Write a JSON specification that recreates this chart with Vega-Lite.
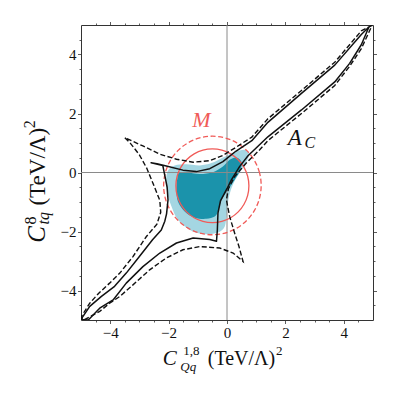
{
"$schema": "https://vega.github.io/schema/vega-lite/v6.json",
"width": 292,
"height": 295,
"autosize": {"type": "none"},
"padding": {"left": 81, "top": 25, "right": 26, "bottom": 79},
"background": "white",
"config": {
  "view": {"stroke": null},
  "font": "Liberation Serif",
  "style": {"guide-label": {"font": "Liberation Serif", "fontSize": 15}},
  "axis": {"grid": false, "title": null, "domainColor": "#333", "domainWidth": 1, "tickColor": "#333", "tickWidth": 0.8, "labelFont": "Liberation Serif", "labelFontSize": 15, "labelColor": "#111", "labelOverlap": false, "labelFlush": false, "format": "d"}
},
"datasets": {
  "light": [
    {"i":0,"x":-2.08,"y":-0.18},{"i":1,"x":-2.0,"y":0.09},{"i":2,"x":-1.79,"y":0.24},{"i":3,"x":-1.39,"y":0.28},{"i":4,"x":-0.93,"y":0.24},{"i":5,"x":-0.53,"y":0.32},{"i":6,"x":-0.14,"y":0.51},{"i":7,"x":0.26,"y":0.69},{"i":8,"x":0.61,"y":0.77},{"i":9,"x":0.75,"y":0.62},{"i":10,"x":0.66,"y":0.36},{"i":11,"x":0.45,"y":0.02},{"i":12,"x":0.23,"y":-0.35},{"i":13,"x":0.08,"y":-0.76},{"i":14,"x":0.01,"y":-1.2},{"i":15,"x":-0.03,"y":-1.6},{"i":16,"x":-0.11,"y":-1.89},{"i":17,"x":-0.36,"y":-2.05},{"i":18,"x":-0.82,"y":-2.09},{"i":19,"x":-1.28,"y":-1.94},{"i":20,"x":-1.68,"y":-1.6},{"i":21,"x":-1.9,"y":-1.15},{"i":22,"x":-2.05,"y":-0.65}
  ],
  "dark": [
    {"i":0,"x":-1.7,"y":-0.19},{"i":1,"x":-1.64,"y":-0.02},{"i":2,"x":-1.39,"y":0.01},{"i":3,"x":-0.93,"y":-0.05},{"i":4,"x":-0.48,"y":0.01},{"i":5,"x":-0.14,"y":0.2},{"i":6,"x":0.09,"y":0.43},{"i":7,"x":0.32,"y":0.51},{"i":8,"x":0.49,"y":0.37},{"i":9,"x":0.46,"y":0.09},{"i":10,"x":0.26,"y":-0.25},{"i":11,"x":0.03,"y":-0.59},{"i":12,"x":-0.19,"y":-0.93},{"i":13,"x":-0.31,"y":-1.32},{"i":14,"x":-0.42,"y":-1.49},{"i":15,"x":-0.71,"y":-1.57},{"i":16,"x":-1.11,"y":-1.53},{"i":17,"x":-1.45,"y":-1.32},{"i":18,"x":-1.68,"y":-0.98},{"i":19,"x":-1.73,"y":-0.59}
  ],
  "c1": [
    {"i":0,"x":0.75,"y":-0.45},{"i":1,"x":0.708,"y":-0.126},{"i":2,"x":0.583,"y":0.175},{"i":3,"x":0.384,"y":0.434},{"i":4,"x":0.125,"y":0.633},{"i":5,"x":-0.176,"y":0.758},{"i":6,"x":-0.5,"y":0.8},{"i":7,"x":-0.824,"y":0.758},{"i":8,"x":-1.125,"y":0.633},{"i":9,"x":-1.384,"y":0.434},{"i":10,"x":-1.583,"y":0.175},{"i":11,"x":-1.708,"y":-0.126},{"i":12,"x":-1.75,"y":-0.45},{"i":13,"x":-1.708,"y":-0.774},{"i":14,"x":-1.583,"y":-1.075},{"i":15,"x":-1.384,"y":-1.334},{"i":16,"x":-1.125,"y":-1.533},{"i":17,"x":-0.824,"y":-1.658},{"i":18,"x":-0.5,"y":-1.7},{"i":19,"x":-0.176,"y":-1.658},{"i":20,"x":0.125,"y":-1.533},{"i":21,"x":0.384,"y":-1.334},{"i":22,"x":0.583,"y":-1.075},{"i":23,"x":0.708,"y":-0.774}
  ],
  "c2": [
    {"i":0,"x":1.17,"y":-0.44},{"i":1,"x":1.113,"y":-0.007},{"i":2,"x":0.946,"y":0.395},{"i":3,"x":0.681,"y":0.741},{"i":4,"x":0.335,"y":1.006},{"i":5,"x":-0.067,"y":1.173},{"i":6,"x":-0.5,"y":1.23},{"i":7,"x":-0.933,"y":1.173},{"i":8,"x":-1.335,"y":1.006},{"i":9,"x":-1.681,"y":0.741},{"i":10,"x":-1.946,"y":0.395},{"i":11,"x":-2.113,"y":-0.007},{"i":12,"x":-2.17,"y":-0.44},{"i":13,"x":-2.113,"y":-0.873},{"i":14,"x":-1.946,"y":-1.275},{"i":15,"x":-1.681,"y":-1.621},{"i":16,"x":-1.335,"y":-1.886},{"i":17,"x":-0.933,"y":-2.053},{"i":18,"x":-0.5,"y":-2.11},{"i":19,"x":-0.067,"y":-2.053},{"i":20,"x":0.335,"y":-1.886},{"i":21,"x":0.681,"y":-1.621},{"i":22,"x":0.946,"y":-1.275},{"i":23,"x":1.113,"y":-0.873}
  ],
  "solid": [
    {"i":0,"x":4.86,"y":4.93},{"i":1,"x":4.6,"y":4.68},{"i":2,"x":3.69,"y":3.64},{"i":3,"x":2.55,"y":2.68},{"i":4,"x":1.4,"y":1.7},{"i":5,"x":0.85,"y":1.08},{"i":6,"x":0.3,"y":0.72},{"i":7,"x":-0.14,"y":0.37},{"i":8,"x":-0.59,"y":0.13},{"i":9,"x":-1.05,"y":0.03},{"i":10,"x":-1.51,"y":0.08},{"i":11,"x":-2.08,"y":0.22},{"i":12,"x":-2.4,"y":0.3},{"i":13,"x":-2.6,"y":0.33},{"i":14,"x":-2.2,"y":0.24},{"i":15,"x":-2.13,"y":-0.1},{"i":16,"x":-2.05,"y":-0.5},{"i":17,"x":-2.02,"y":-0.93},{"i":18,"x":-2.07,"y":-1.4},{"i":19,"x":-2.13,"y":-1.65},{"i":20,"x":-2.25,"y":-1.95},{"i":21,"x":-2.55,"y":-2.28},{"i":22,"x":-3.0,"y":-2.85},{"i":23,"x":-3.45,"y":-3.41},{"i":24,"x":-3.85,"y":-3.86},{"i":25,"x":-4.3,"y":-4.2},{"i":26,"x":-4.7,"y":-4.54},{"i":27,"x":-5.0,"y":-4.98},{"i":28,"x":-4.75,"y":-5.0},{"i":29,"x":-4.36,"y":-4.6},{"i":30,"x":-3.9,"y":-4.32},{"i":31,"x":-3.45,"y":-3.75},{"i":32,"x":-2.88,"y":-3.19},{"i":33,"x":-2.3,"y":-2.73},{"i":34,"x":-1.73,"y":-2.39},{"i":35,"x":-1.16,"y":-2.22},{"i":36,"x":-0.59,"y":-2.27},{"i":37,"x":-0.36,"y":-2.33},{"i":38,"x":-0.33,"y":-1.94},{"i":39,"x":-0.31,"y":-1.38},{"i":40,"x":-0.22,"y":-0.95},{"i":41,"x":0.0,"y":-0.55},{"i":42,"x":0.15,"y":-0.25},{"i":43,"x":0.43,"y":0.2},{"i":44,"x":0.72,"y":0.57},{"i":45,"x":1.4,"y":1.21},{"i":46,"x":2.55,"y":2.12},{"i":47,"x":3.69,"y":3.07},{"i":48,"x":4.2,"y":3.7},{"i":49,"x":4.6,"y":4.33},{"i":50,"x":4.86,"y":4.93}
  ],
  "dashed": [
    {"i":0,"x":4.97,"y":4.99},{"i":1,"x":4.6,"y":4.8},{"i":2,"x":3.69,"y":3.74},{"i":3,"x":2.55,"y":2.78},{"i":4,"x":1.4,"y":1.82},{"i":5,"x":0.85,"y":1.2},{"i":6,"x":0.3,"y":0.85},{"i":7,"x":-0.14,"y":0.58},{"i":8,"x":-0.59,"y":0.4},{"i":9,"x":-1.16,"y":0.35},{"i":10,"x":-1.73,"y":0.45},{"i":11,"x":-2.3,"y":0.62},{"i":12,"x":-2.88,"y":0.9},{"i":13,"x":-3.5,"y":1.18},{"i":14,"x":-3.3,"y":0.98},{"i":15,"x":-3.0,"y":0.6},{"i":16,"x":-2.75,"y":0.15},{"i":17,"x":-2.5,"y":-0.45},{"i":18,"x":-2.3,"y":-0.95},{"i":19,"x":-2.27,"y":-1.35},{"i":20,"x":-2.4,"y":-1.75},{"i":21,"x":-2.76,"y":-2.17},{"i":22,"x":-3.22,"y":-2.85},{"i":23,"x":-3.67,"y":-3.41},{"i":24,"x":-4.02,"y":-3.75},{"i":25,"x":-4.4,"y":-4.1},{"i":26,"x":-4.7,"y":-4.43},{"i":27,"x":-5.0,"y":-4.9},{"i":28,"x":-4.9,"y":-5.0},{"i":29,"x":-4.36,"y":-4.71},{"i":30,"x":-4.02,"y":-4.43},{"i":31,"x":-3.67,"y":-4.2},{"i":32,"x":-3.22,"y":-3.81},{"i":33,"x":-2.65,"y":-3.3},{"i":34,"x":-2.08,"y":-2.9},{"i":35,"x":-1.51,"y":-2.62},{"i":36,"x":-0.93,"y":-2.51},{"i":37,"x":-0.25,"y":-2.56},{"i":38,"x":0.21,"y":-2.73},{"i":39,"x":0.55,"y":-3.02},{"i":40,"x":0.41,"y":-2.51},{"i":41,"x":0.26,"y":-2.05},{"i":42,"x":0.09,"y":-1.49},{"i":43,"x":-0.02,"y":-0.93},{"i":44,"x":0.05,"y":-0.55},{"i":45,"x":0.26,"y":-0.14},{"i":46,"x":0.66,"y":0.32},{"i":47,"x":1.12,"y":0.77},{"i":48,"x":1.4,"y":1.08},{"i":49,"x":2.55,"y":2.0},{"i":50,"x":3.69,"y":2.95},{"i":51,"x":4.2,"y":3.6},{"i":52,"x":4.6,"y":4.2},{"i":53,"x":4.97,"y":4.99}
  ]
},
"layer": [
  {"data": {"name": "light"},
   "mark": {"type": "line", "interpolate": "cardinal-closed", "fill": "#a4d6e2", "strokeWidth": 0, "clip": true},
   "encoding": {
     "x": {"field": "x", "type": "quantitative", "scale": {"domain": [-5, 5], "nice": false, "zero": false},
           "axis": {"orient": "bottom", "values": [-4.5,-4,-3.5,-3,-2.5,-2,-1.5,-1,-0.5,0,0.5,1,1.5,2,2.5,3,3.5,4,4.5], "labelExpr": "datum.value % 2 === 0 ? datum.label : ''", "tickSize": {"condition": {"test": "datum.value % 2 === 0", "value": 3.5}, "value": 2}, "labelPadding": 2, "labelFont": "Liberation Serif", "labelFontSize": 15}},
     "y": {"field": "y", "type": "quantitative", "scale": {"domain": [-5, 5], "nice": false, "zero": false},
           "axis": {"orient": "left", "values": [-4.5,-4,-3.5,-3,-2.5,-2,-1.5,-1,-0.5,0,0.5,1,1.5,2,2.5,3,3.5,4,4.5], "labelExpr": "datum.value % 2 === 0 ? datum.label : ''", "tickSize": {"condition": {"test": "datum.value % 2 === 0", "value": 3.5}, "value": 2}, "labelPadding": 1.5, "labelFont": "Liberation Serif", "labelFontSize": 15}},
     "order": {"field": "i", "type": "quantitative"}
   }},
  {"data": {"name": "dark"},
   "mark": {"type": "line", "interpolate": "cardinal-closed", "fill": "#1b93ab", "strokeWidth": 0, "clip": true},
   "encoding": {
     "x": {"field": "x", "type": "quantitative",
           "axis": {"orient": "top", "labels": false, "values": [-4.5,-4,-3.5,-3,-2.5,-2,-1.5,-1,-0.5,0,0.5,1,1.5,2,2.5,3,3.5,4,4.5], "tickSize": {"condition": {"test": "datum.value % 2 === 0", "value": 3.5}, "value": 2}}},
     "y": {"field": "y", "type": "quantitative",
           "axis": {"orient": "right", "labels": false, "values": [-4.5,-4,-3.5,-3,-2.5,-2,-1.5,-1,-0.5,0,0.5,1,1.5,2,2.5,3,3.5,4,4.5], "tickSize": {"condition": {"test": "datum.value % 2 === 0", "value": 3.5}, "value": 2}}},
     "order": {"field": "i", "type": "quantitative"}
   }},
  {"data": {"values": [{}]},
   "mark": {"type": "rule", "color": "#8a8a8a", "strokeWidth": 1},
   "encoding": {"x": {"datum": 0, "type": "quantitative", "axis": null}}},
  {"data": {"values": [{}]},
   "mark": {"type": "rule", "color": "#8a8a8a", "strokeWidth": 1},
   "encoding": {"y": {"datum": 0, "type": "quantitative", "axis": null}}},
  {"data": {"name": "c1"},
   "mark": {"type": "line", "interpolate": "cardinal-closed", "color": "#f05b58", "strokeWidth": 1.3, "clip": true},
   "encoding": {"x": {"field": "x", "type": "quantitative", "axis": null}, "y": {"field": "y", "type": "quantitative", "axis": null}, "order": {"field": "i", "type": "quantitative"}}},
  {"data": {"name": "c2"},
   "mark": {"type": "line", "interpolate": "cardinal-closed", "color": "#f05b58", "strokeWidth": 1.3, "strokeDash": [5, 2.6], "clip": true},
   "encoding": {"x": {"field": "x", "type": "quantitative", "axis": null}, "y": {"field": "y", "type": "quantitative", "axis": null}, "order": {"field": "i", "type": "quantitative"}}},
  {"data": {"name": "solid"},
   "mark": {"type": "line", "color": "#111", "strokeWidth": 1.5, "strokeJoin": "round", "clip": true},
   "encoding": {"x": {"field": "x", "type": "quantitative", "axis": null}, "y": {"field": "y", "type": "quantitative", "axis": null}, "order": {"field": "i", "type": "quantitative"}}},
  {"data": {"name": "dashed"},
   "mark": {"type": "line", "color": "#111", "strokeWidth": 1.4, "strokeDash": [5, 2.4], "clip": true},
   "encoding": {"x": {"field": "x", "type": "quantitative", "axis": null}, "y": {"field": "y", "type": "quantitative", "axis": null}, "order": {"field": "i", "type": "quantitative"}}},
  {"data": {"values": [{}]},
   "mark": {"type": "text", "text": "M", "font": "Liberation Serif", "fontStyle": "italic", "fontSize": 22, "color": "#f05b58", "align": "center", "baseline": "middle"},
   "encoding": {"x": {"datum": -0.88, "type": "quantitative", "axis": null}, "y": {"datum": 1.79, "type": "quantitative", "axis": null}}},
  {"data": {"values": [{}]},
   "mark": {"type": "text", "text": "A", "font": "Liberation Serif", "fontStyle": "italic", "fontSize": 23, "color": "#111", "align": "left", "baseline": "alphabetic"},
   "encoding": {"x": {"datum": 2.08, "type": "quantitative", "axis": null}, "y": {"datum": 0.94, "type": "quantitative", "axis": null}}},
  {"data": {"values": [{}]},
   "mark": {"type": "text", "text": "C", "font": "Liberation Serif", "fontStyle": "italic", "fontSize": 16, "color": "#111", "align": "left", "baseline": "alphabetic"},
   "encoding": {"x": {"datum": 2.65, "type": "quantitative", "axis": null}, "y": {"datum": 0.84, "type": "quantitative", "axis": null}}},
  {"data": {"values": [{}]},
   "mark": {"type": "text", "text": "C", "font": "Liberation Serif", "fontStyle": "italic", "fontSize": 21, "color": "#111", "align": "left", "baseline": "alphabetic"},
   "encoding": {"x": {"datum": -2.2, "type": "quantitative", "axis": null}, "y": {"datum": -6.52, "type": "quantitative", "axis": null}}},
  {"data": {"values": [{}]},
   "mark": {"type": "text", "text": "Qq", "font": "Liberation Serif", "fontStyle": "italic", "fontSize": 13, "color": "#111", "align": "left", "baseline": "alphabetic"},
   "encoding": {"x": {"datum": -1.6, "type": "quantitative", "axis": null}, "y": {"datum": -6.74, "type": "quantitative", "axis": null}}},
  {"data": {"values": [{}]},
   "mark": {"type": "text", "text": "1,8", "font": "Liberation Serif", "fontSize": 13, "color": "#111", "align": "left", "baseline": "alphabetic"},
   "encoding": {"x": {"datum": -1.5, "type": "quantitative", "axis": null}, "y": {"datum": -6.17, "type": "quantitative", "axis": null}}},
  {"data": {"values": [{}]},
   "mark": {"type": "text", "text": "(TeV/Λ)", "font": "Liberation Serif", "fontSize": 20, "color": "#111", "align": "left", "baseline": "alphabetic"},
   "encoding": {"x": {"datum": -0.66, "type": "quantitative", "axis": null}, "y": {"datum": -6.52, "type": "quantitative", "axis": null}}},
  {"data": {"values": [{}]},
   "mark": {"type": "text", "text": "2", "font": "Liberation Serif", "fontSize": 13, "color": "#111", "align": "left", "baseline": "alphabetic"},
   "encoding": {"x": {"datum": 1.68, "type": "quantitative", "axis": null}, "y": {"datum": -6.2, "type": "quantitative", "axis": null}}},
  {"data": {"values": [{}]},
   "mark": {"type": "text", "text": "C", "angle": 270, "font": "Liberation Serif", "fontStyle": "italic", "fontSize": 25, "color": "#111", "align": "left", "baseline": "alphabetic"},
   "encoding": {"x": {"datum": -6.24, "type": "quantitative", "axis": null}, "y": {"datum": -2.38, "type": "quantitative", "axis": null}}},
  {"data": {"values": [{}]},
   "mark": {"type": "text", "text": "tq", "angle": 270, "font": "Liberation Serif", "fontStyle": "italic", "fontSize": 16, "color": "#111", "align": "left", "baseline": "alphabetic"},
   "encoding": {"x": {"datum": -6.09, "type": "quantitative", "axis": null}, "y": {"datum": -1.76, "type": "quantitative", "axis": null}}},
  {"data": {"values": [{}]},
   "mark": {"type": "text", "text": "8", "angle": 270, "font": "Liberation Serif", "fontSize": 16, "color": "#111", "align": "left", "baseline": "alphabetic"},
   "encoding": {"x": {"datum": -6.54, "type": "quantitative", "axis": null}, "y": {"datum": -1.76, "type": "quantitative", "axis": null}}},
  {"data": {"values": [{}]},
   "mark": {"type": "text", "text": "(TeV/Λ)", "angle": 270, "font": "Liberation Serif", "fontSize": 23, "color": "#111", "align": "left", "baseline": "alphabetic"},
   "encoding": {"x": {"datum": -6.24, "type": "quantitative", "axis": null}, "y": {"datum": -1.12, "type": "quantitative", "axis": null}}},
  {"data": {"values": [{}]},
   "mark": {"type": "text", "text": "2", "angle": 270, "font": "Liberation Serif", "fontSize": 16, "color": "#111", "align": "left", "baseline": "alphabetic"},
   "encoding": {"x": {"datum": -6.56, "type": "quantitative", "axis": null}, "y": {"datum": 1.5, "type": "quantitative", "axis": null}}}
],
"resolve": {"axis": {"x": "independent", "y": "independent"}}
}
